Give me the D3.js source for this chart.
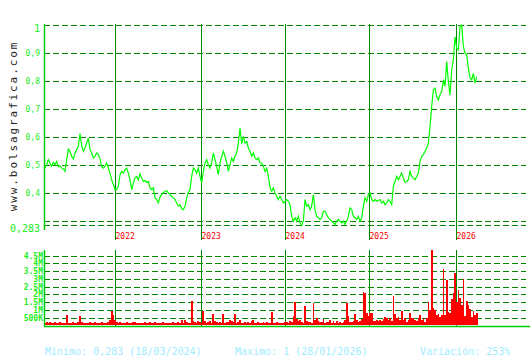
<!DOCTYPE html>
<html>
<head>
<meta charset="utf-8">
<script src="https://d3js.org/d3.v7.min.js"></script>
<style>
  body { margin: 0; background: #fff; }
  svg { display: block; }
</style>
</head>
<body>
<svg width="530" height="360"></svg>
<script>
// weekly closes (one point per week, index based like the original chart)
var prices = [
  0.488,0.500,0.518,0.506,0.494,0.508,0.500,0.512,0.492,0.496,
  0.488,0.485,0.476,0.518,0.556,0.548,0.530,0.520,0.542,0.554,
  0.565,0.611,0.568,0.548,0.560,0.577,0.595,0.554,0.542,0.524,
  0.530,0.542,0.536,0.520,0.494,0.488,0.494,0.506,0.488,0.470,
  0.446,0.429,0.411,0.411,0.423,0.464,0.476,0.470,0.482,0.488,
  0.470,0.446,0.411,0.435,0.452,0.458,0.446,0.468,0.452,0.440,
  0.443,0.437,0.440,0.417,0.411,0.417,0.381,0.375,0.363,0.384,
  0.393,0.401,0.405,0.407,0.399,0.393,
  0.387,0.381,0.375,0.363,0.351,0.357,0.342,0.339,0.351,0.381,
  0.401,0.411,0.458,0.488,0.482,0.470,0.488,0.458,0.435,0.476,
  0.506,0.518,0.500,0.488,0.508,0.542,0.518,0.494,0.464,0.506,
  0.530,0.548,0.530,0.506,0.476,0.500,0.524,0.512,0.530,0.542,
  0.577,0.631,0.575,0.601,0.577,0.583,0.560,0.548,0.530,0.542,
  0.524,0.518,0.524,0.506,0.506,0.494,0.476,0.488,0.458,0.417,
  0.405,0.417,0.399,0.387,0.375,0.387,0.375,0.363,0.369,0.375,
  0.369,0.357,
  0.315,0.298,0.310,0.298,0.315,0.292,0.283,0.298,0.375,0.351,
  0.357,0.339,0.351,0.393,0.339,0.315,0.310,0.304,0.310,0.333,
  0.333,0.321,0.310,0.304,0.298,0.292,0.286,0.298,0.304,0.298,
  0.292,0.298,0.286,0.298,0.315,0.345,0.339,0.315,0.310,0.304,
  0.315,0.298,0.310,0.351,0.381,0.369,0.393,0.399,0.375,0.369,
  0.375,0.369,0.372,0.375,0.363,0.369,0.357,0.363,0.375,
  0.369,0.357,0.423,0.440,0.458,0.446,0.458,0.470,0.452,0.437,
  0.440,0.446,0.476,0.458,0.452,0.446,0.458,0.470,0.512,0.530,
  0.536,0.548,0.560,0.577,0.637,0.708,0.768,0.774,0.744,0.732,
  0.750,0.762,0.804,0.780,0.869,0.798,0.750,0.839,0.875,0.958,
  0.917,0.911,0.994,1.000,0.923,0.899,0.893,0.845,0.810,0.804,
  0.827,0.792,0.815
];

// weekly volume, millions
var volumes = [
  0.16,0.20,0.18,0.24,0.17,0.12,0.20,0.15,0.18,0.22,
  0.13,0.18,0.15,0.67,0.18,0.12,0.16,0.20,0.18,0.13,
  0.24,0.60,0.20,0.16,0.12,0.18,0.15,0.20,0.13,0.18,
  0.24,0.15,0.18,0.12,0.20,0.16,0.13,0.18,0.20,0.34,
  0.94,0.65,0.34,0.20,0.16,0.24,0.18,0.13,0.18,0.20,
  0.16,0.12,0.18,0.20,0.24,0.15,0.18,0.13,0.12,0.18,
  0.20,0.15,0.18,0.24,0.13,0.18,0.20,0.16,0.12,0.18,
  0.15,0.20,0.18,0.13,0.16,0.18,0.12,0.20,0.15,0.18,
  0.24,0.16,0.37,0.18,0.32,0.20,0.15,0.18,1.60,0.30,
  0.22,0.18,0.26,0.20,0.16,0.90,0.30,0.18,0.22,0.26,
  0.18,0.73,0.28,0.20,0.18,0.22,0.15,0.73,0.18,0.22,
  0.20,0.34,0.26,0.22,0.73,0.18,0.20,0.35,0.18,0.15,
  0.20,0.18,0.22,0.15,0.26,0.32,0.18,0.15,0.20,0.18,
  0.15,0.22,0.18,0.20,0.13,0.18,0.86,0.18,0.16,0.20,
  0.18,0.15,0.12,0.18,0.20,0.24,0.16,0.28,0.22,0.60,
  1.50,0.40,0.26,0.32,0.22,0.18,1.25,0.28,0.20,0.22,
  0.18,1.47,0.34,0.50,0.26,0.20,0.22,0.40,0.18,0.22,
  0.20,0.34,0.18,0.26,0.15,0.30,0.18,0.20,0.16,0.22,
  0.34,1.42,0.60,0.22,0.20,0.26,0.75,0.34,0.22,0.26,
  0.38,2.17,2.10,0.80,0.60,0.78,0.78,0.28,0.28,0.32,
  0.30,0.32,0.26,0.40,0.56,0.45,0.32,0.45,0.28,1.90,
  0.73,0.45,0.55,0.32,0.90,0.32,0.45,0.24,0.32,0.82,
  0.50,0.45,0.32,0.28,0.45,0.65,0.35,0.50,0.20,0.45,
  1.53,1.00,4.85,1.10,1.00,0.65,0.70,0.55,0.65,3.62,
  0.67,2.93,0.88,0.80,1.68,2.10,3.40,1.50,2.30,1.75,
  1.30,2.97,0.60,1.60,1.30,1.03,0.52,0.95,0.67,0.78
];

// year boundaries, in week index units
var years = ["2022", "2023", "2024", "2025", "2026"];
var yearIdx = [42.2, 93.8, 144.2, 194.6, 246.4];

var priceTicks = [1, 0.9, 0.8, 0.7, 0.6, 0.5, 0.4, 0.3, 0.283];
var priceLabels = ["1", "0,9", "0,8", "0,7", "0,6", "0,5", "0,4", "", "0,283"];

var volTicks = [0.5, 1, 1.5, 2, 2.5, 3, 3.5, 4, 4.5];
var volLabels = ["500K", "1M", "1.5M", "2M", "2.5M", "3M", "3.5M", "4M", "4.5M"];

var footer = ["Minimo: 0,283 (18/03/2024)", "Maximo: 1 (28/01/2026)", "Variación: 253%"];

var svg = d3.select("svg");
var mono = "'DejaVu Sans Mono', 'Liberation Mono', monospace";
var gridColor = "#008800";

var x = d3.scaleLinear().domain([0, prices.length - 1]).range([45, 476.7]);
var y = d3.scaleLinear().domain([0.283, 1]).range([225.3, 25]);
var yv = d3.scaleLinear().domain([0, 4.5]).range([325.3, 255.7]);

function px(v) { return Math.round(v) + 0.5; }

// price grid
svg.append("g").selectAll("line")
    .data(priceTicks)
    .enter()
    .append("line")
    .attr("x1", 44).attr("x2", 526)
    .attr("y1", function (d) { return px(y(d)); })
    .attr("y2", function (d) { return px(y(d)); })
    .attr("stroke", gridColor)
    .attr("stroke-dasharray", "6,3")
    .attr("shape-rendering", "crispEdges");

// volume grid
svg.append("g").selectAll("line")
    .data(volTicks)
    .enter()
    .append("line")
    .attr("x1", 44).attr("x2", 526)
    .attr("y1", function (d) { return px(yv(d)); })
    .attr("y2", function (d) { return px(yv(d)); })
    .attr("stroke", gridColor)
    .attr("stroke-dasharray", "6,3")
    .attr("shape-rendering", "crispEdges");

// year lines, both panels
var yearG = svg.append("g");
yearIdx.forEach(function (d, i) {
    var xx = px(x(d));
    yearG.append("line").attr("x1", xx).attr("x2", xx).attr("y1", 24).attr("y2", 240)
        .attr("stroke", gridColor).attr("shape-rendering", "crispEdges");
    yearG.append("line").attr("x1", xx).attr("x2", xx).attr("y1", 250).attr("y2", 326)
        .attr("stroke", gridColor).attr("shape-rendering", "crispEdges");
    yearG.append("text")
        .attr("x", xx).attr("y", 238.5)
        .attr("fill", "#ff0000")
        .style("font-family", mono)
        .style("font-size", "8px")
        .text(years[i]);
});

// volume bars
svg.append("g").selectAll("rect")
    .data(volumes)
    .enter()
    .append("rect")
    .attr("x", function (d, i) { return x(i) - 0.85; })
    .attr("width", 1.7)
    .attr("y", function (d) { return yv(d); })
    .attr("height", function (d) { return yv(0) - yv(d); })
    .attr("fill", "#ff0000")
    .attr("shape-rendering", "crispEdges");

// price line
var line = d3.line()
    .x(function (d, i) { return x(i); })
    .y(function (d) { return y(d); });

svg.append("path")
    .datum(prices)
    .attr("d", line)
    .attr("fill", "none")
    .attr("stroke", "#00ff00")
    .attr("stroke-width", 1.2);

// axes lines
svg.append("line").attr("x1", 44.5).attr("x2", 44.5).attr("y1", 24).attr("y2", 230)
    .attr("stroke", "#00cc00").attr("stroke-width", 1.5);
svg.append("line").attr("x1", 44.5).attr("x2", 44.5).attr("y1", 250).attr("y2", 326)
    .attr("stroke", "#00cc00").attr("stroke-width", 1.5);
svg.append("line").attr("x1", 44).attr("x2", 530).attr("y1", 326.5).attr("y2", 326.5)
    .attr("stroke", "#00cc00").attr("stroke-width", 1.5);

// price labels
svg.append("g").selectAll("text")
    .data(priceTicks)
    .enter()
    .append("text")
    .attr("x", 40)
    .attr("y", function (d, i) {
        var big = (i === 0 || i === priceTicks.length - 1);
        return big ? y(d) + 7 : y(d) + 3;
    })
    .attr("text-anchor", "end")
    .attr("fill", "#22ee22")
    .style("font-family", mono)
    .style("font-size", function (d, i) {
        return (i === 0 || i === priceTicks.length - 1) ? "10px" : "8px";
    })
    .text(function (d, i) { return priceLabels[i]; });

// volume labels
svg.append("g").selectAll("text")
    .data(volTicks)
    .enter()
    .append("text")
    .attr("x", 43)
    .attr("y", function (d) { return yv(d) + 3; })
    .attr("text-anchor", "end")
    .attr("fill", "#22ee22")
    .style("font-family", mono)
    .style("font-size", "8px")
    .style("font-weight", "bold")
    .text(function (d, i) { return volLabels[i]; });

// watermark
svg.append("text")
    .attr("transform", "translate(16.5,126) rotate(-90)")
    .attr("text-anchor", "middle")
    .attr("fill", "#222")
    .style("font-family", mono)
    .style("font-size", "11px")
    .style("letter-spacing", "1.9px")
    .text("www.bolsagrafica.com");

// footer
var footX = [45, 235, 420];
svg.append("g").selectAll("text")
    .data(footer)
    .enter()
    .append("text")
    .attr("x", function (d, i) { return footX[i]; })
    .attr("y", 355)
    .attr("fill", "#a0ecff")
    .style("font-family", mono)
    .style("font-size", "10px")
    .text(function (d) { return d; });
</script>
</body>
</html>
